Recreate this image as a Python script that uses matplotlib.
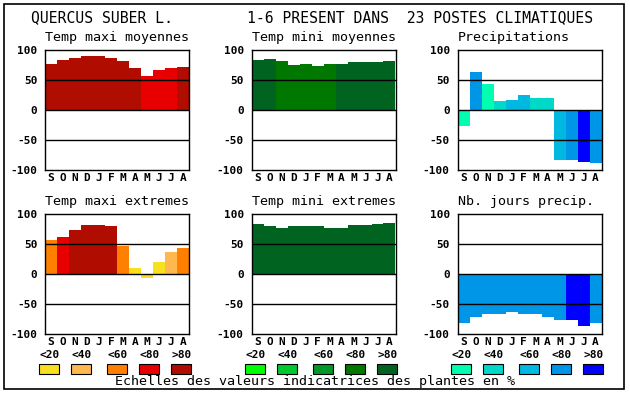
import matplotlib
matplotlib.use('Agg')
import matplotlib.pyplot as plt
from matplotlib.patches import Rectangle

plt.rcParams['font.family'] = ['DejaVu Sans Mono']
plt.rcParams['axes.unicode_minus'] = False

W, H = 630, 394

months = ['S', 'O', 'N', 'D', 'J', 'F', 'M', 'A', 'M', 'J', 'J', 'A']
class_labels = ['<20', '<40', '<60', '<80', '>80']

reds = ['#F8E020', '#FFB850', '#FF8000', '#E80000', '#B00C00']
greens = ['#00FF00', '#00C830', '#009828', '#007800', '#006420']
blues = ['#00FFB0', '#00D8C8', '#00B8E0', '#0096E8', '#0000FF']

tmax_moy = [77, 83, 87, 90, 90, 87, 82, 70, 57, 67, 70, 72]
tmax_moy_cls = [4, 4, 4, 4, 4, 4, 4, 4, 3, 3, 3, 4]
tmin_moy = [83, 85, 82, 75, 77, 73, 77, 77, 80, 80, 80, 82]
tmin_moy_cls = [4, 4, 3, 3, 3, 3, 3, 4, 4, 4, 4, 4]
precip = [-26, 63, 43, 15, 17, 25, 20, 20, -83, -83, -87, -88]
precip_cls = [0, 3, 0, 1, 2, 2, 1, 1, 2, 3, 4, 3]
tmax_ext = [56, 62, 74, 82, 82, 80, 47, 10, -6, 20, 37, 44]
tmax_ext_cls = [2, 3, 4, 4, 4, 4, 2, 0, 0, 0, 1, 2]
tmin_ext = [84, 80, 77, 80, 80, 80, 77, 77, 82, 82, 84, 85]
tmin_ext_cls = [4, 4, 4, 4, 4, 4, 4, 4, 4, 4, 4, 4]
nb_jours = [-82, -72, -66, -66, -64, -67, -67, -71, -76, -77, -86, -81]
nb_jours_cls = [3, 3, 3, 3, 3, 3, 3, 3, 3, 4, 4, 3]

panels = [
    ('Temp maxi moyennes', tmax_moy, tmax_moy_cls, reds, 45, 50),
    ('Temp mini moyennes', tmin_moy, tmin_moy_cls, greens, 251.5, 50),
    ('Precipitations', precip, precip_cls, blues, 457.5, 50),
    ('Temp maxi extremes', tmax_ext, tmax_ext_cls, reds, 45, 214),
    ('Temp mini extremes', tmin_ext, tmin_ext_cls, greens, 251.5, 214),
    ('Nb. jours precip.', nb_jours, nb_jours_cls, blues, 457.5, 214),
]

fig = plt.figure(figsize=(W / 100, H / 100), dpi=100)
fig.patch.set_facecolor('white')


def px(x, y):
    return x / W, 1 - y / H


for title, vals, cls, pal, left, top in panels:
    x0, y0 = px(left, top + 120)
    ax = fig.add_axes([x0, y0, 144 / W, 120 / H])
    ax.bar(range(12), vals, width=1.0, color=[pal[c] for c in cls],
           linewidth=0, zorder=2)
    for yl in (50, 0, -50):
        ax.axhline(yl, color='black', lw=1.0, zorder=3)
    ax.set_xlim(-0.5, 11.5)
    ax.set_ylim(-100, 100)
    ax.set_yticks([100, 50, 0, -50, -100])
    ax.set_yticklabels(['100', '50', '0', '-50', '-100'],
                       fontsize=8, fontweight='bold')
    ax.set_xticks(range(12))
    ax.set_xticklabels(months, fontsize=8, fontweight='bold')
    ax.tick_params(length=0, pad=5.5)
    ax.tick_params(axis='x', pad=2)
    for s in ax.spines.values():
        s.set_linewidth(1.0)
    tx, ty = px(left, top - 12)
    fig.text(tx, ty, title, fontsize=9.6, ha='left', va='center')

# titre general
fig.text(*px(31, 18), 'QUERCUS SUBER L.', fontsize=10.6, va='center')
fig.text(*px(247, 18), '1-6 PRESENT DANS  23 POSTES CLIMATIQUES',
         fontsize=10.6, va='center')

# legendes des classes
box_lefts = [39, 71, 107, 139, 171]
for off, pal in zip([0, 206, 412], [reds, greens, blues]):
    for bl, col, lab in zip(box_lefts, pal, class_labels):
        fig.text(*px(bl + off, 354.5), lab, fontsize=8, fontweight='bold',
                 ha='left', va='center')
        bx, by = px(bl + off, 373.5)
        fig.add_artist(Rectangle((bx, by), 20 / W, 9.5 / H,
                                 transform=fig.transFigure, facecolor=col,
                                 edgecolor='black', lw=0.8))

fig.text(*px(115, 382), 'Echelles des valeurs indicatrices des plantes en %',
         fontsize=9.6, ha='left', va='center')

# cadre
bx, by = px(4, 389)
fig.add_artist(Rectangle((bx, by), 620 / W, 385 / H, transform=fig.transFigure,
                         fill=False, edgecolor='black', lw=1.2))

fig.savefig('out.png', dpi=100)
